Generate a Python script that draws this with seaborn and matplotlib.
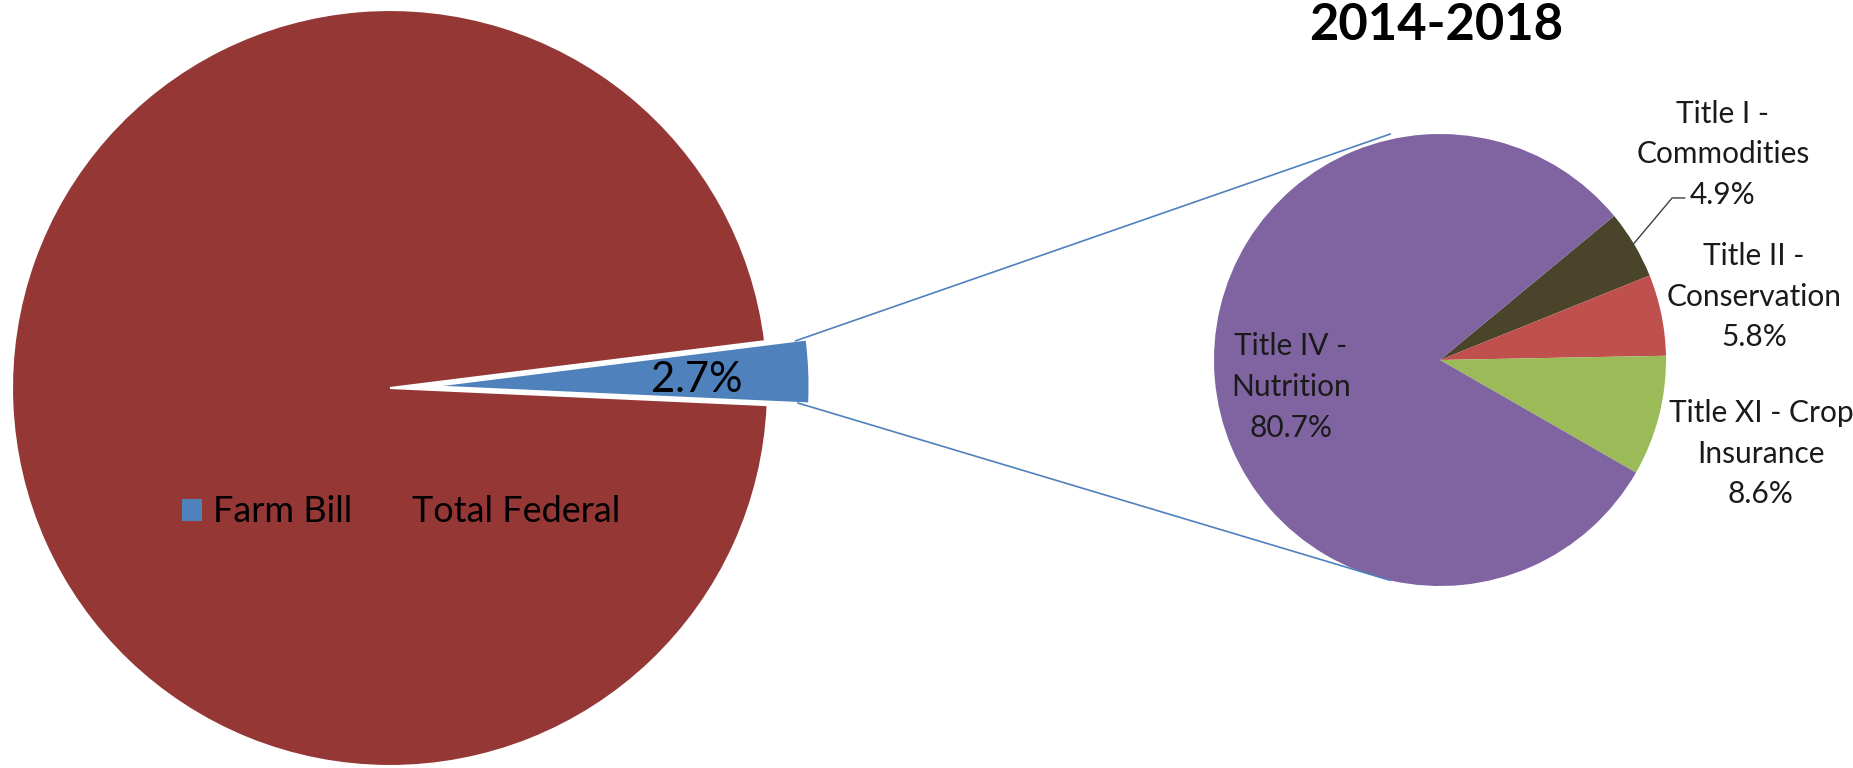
import matplotlib
matplotlib.use("Agg")
import matplotlib.pyplot as plt
from matplotlib.patches import ConnectionPatch, Patch
import numpy as np
import seaborn as sns

# data
main_labels = ["Farm Bill", "Total Federal"]
main_values = [2.7, 97.3]
title_labels = ["Title I -\nCommodities", "Title II -\nConservation",
                "Title XI - Crop\nInsurance", "Title IV -\nNutrition"]
title_values = [4.9, 5.8, 8.6, 80.7]
period = "2014-2018"

main_colors = ["#4F81BD", "#953735"]
title_colors = ["#4A452A", "#C0504D", "#9BBB59", "#8064A2"]

sns.set_theme(style="white")
plt.rcParams['font.family'] = ['Lato', 'DejaVu Sans']

W, H = 1853, 768
fig = plt.figure(figsize=(W / 100, H / 100), dpi=100)


def pie_axes(cx, cy, r, lim=1.25):
    # square axes so that radius 1 = r pixels, centred on (cx, cy) from top-left
    side = 2 * lim * r
    return fig.add_axes([(cx - side / 2) / W, (H - cy - side / 2) / H, side / W, side / H])


# big pie: farm bill share of total federal
ax1 = pie_axes(390, 388, 378)
wedges1, _ = ax1.pie(main_values, colors=main_colors, startangle=-2.6,
                     explode=[0.11, 0], radius=1,
                     wedgeprops=dict(edgecolor='white', linewidth=1.5))
ax1.set_xlim(-1.25, 1.25)
ax1.set_ylim(-1.25, 1.25)
ax1.text(0.812, 0.02, f"{main_values[0]}%", ha='center', va='center',
         fontsize=30, color='black')

# small pie: farm bill by title
ax2 = pie_axes(1440, 360, 226)
wedges2, _ = ax2.pie(title_values, colors=title_colors, startangle=39.6,
                     counterclock=False, radius=1, wedgeprops=dict(linewidth=0))
ax2.set_xlim(-1.25, 1.25)
ax2.set_ylim(-1.25, 1.25)

label_pos = [(1.252, 0.91), (1.39, 0.28), (1.42, -0.415), (-0.66, -0.12)]
for lab, val, (x, y) in zip(title_labels, title_values, label_pos):
    ax2.text(x, y, f"{lab}\n{val}%", ha='center', va='center', fontsize=21.5,
             color='#1a1a1a', linespacing=1.55)

# leader line for commodities
w = wedges2[0]
mid = np.deg2rad((w.theta1 + w.theta2) / 2)
ax2.plot([0.99 * np.cos(mid), 1.027, 1.084], [0.99 * np.sin(mid), 0.717, 0.717],
         color='#404040', lw=1, clip_on=False)

# connector lines between the pies
bw = wedges1[0]
cxb, cyb = bw.center
for th, yb in [(bw.theta2, 1.0), (bw.theta1, -0.975)]:
    t = np.deg2rad(th)
    pa = (cxb + 0.97 * np.cos(t), cyb + 0.97 * np.sin(t))
    con = ConnectionPatch(xyA=pa, coordsA=ax1.transData, xyB=(-0.22, yb),
                          coordsB=ax2.transData, color=main_colors[0], lw=1.2)
    fig.add_artist(con)

# legend inside the big pie
handles = [Patch(facecolor=c, edgecolor='none') for c in main_colors]
leg = fig.legend(handles, main_labels, loc='center left',
                 bbox_to_anchor=(182 / W, 1 - 512 / H), ncol=2, frameon=False,
                 fontsize=26, handlelength=0.55, handleheight=0.55, handletextpad=0.3,
                 columnspacing=0.8, borderpad=0, borderaxespad=0)
for t in leg.get_texts():
    t.set_color('black')

fig.text(1436 / W, 1 - 40 / H, period, ha='center', va='baseline',
         fontsize=36.5, fontweight='bold', color='black')

fig.savefig("out.png", dpi=100)
